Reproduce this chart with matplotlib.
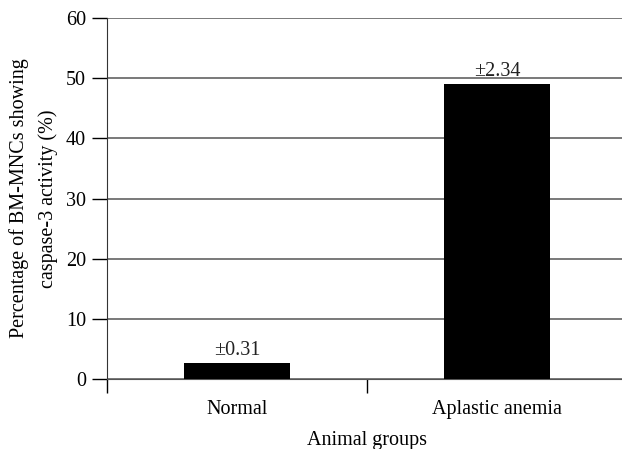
import matplotlib.pyplot as plt

groups = ['Normal', 'Aplastic anemia']
values = [2.7, 49.1]
errors = ['±0.31', '±2.34']

plt.rcParams['font.family'] = ['Liberation Serif', 'DejaVu Serif']
plt.rcParams['font.size'] = 14.5

fig = plt.figure(figsize=(6.22, 4.49), dpi=100)
ax = fig.add_axes([107 / 622, 70 / 449, 520 / 622, 361 / 449])

x = range(len(groups))
bars = ax.bar(x, values, width=0.404, color='black', zorder=3)

for b, e in zip(bars, errors):
    ax.annotate(e, (b.get_x() + b.get_width() / 2, b.get_height()),
                xytext=(0, 2), textcoords='offset points',
                ha='center', va='bottom', color='#222222')

ax.set_xlim(-0.5, 1.5)
ax.set_ylim(0, 60)
ax.set_yticks(range(0, 61, 10))
ax.yaxis.grid(True, color='#555555', linewidth=1.1, zorder=0)

ax.set_xticks([-0.5, 0.5, 1.5])
ax.set_xticklabels([])
ax.set_xticks(list(x), minor=True)
ax.set_xticklabels(groups, minor=True)
ax.tick_params(axis='x', which='major', length=10, width=1, direction='out')
ax.tick_params(axis='x', which='minor', length=0, pad=15)
ax.tick_params(axis='y', length=11, width=1, direction='out', pad=4)

for s in ['top', 'right']:
    ax.spines[s].set_visible(False)
ax.spines['bottom'].set_color('#555555')
ax.spines['left'].set_color('#333333')

ax.set_xlabel('Animal groups', labelpad=9)
ax.set_ylabel('Percentage of BM-MNCs showing\ncaspase-3 activity (%)',
              labelpad=6, linespacing=1.6)

fig.savefig('out.png', dpi=100)
